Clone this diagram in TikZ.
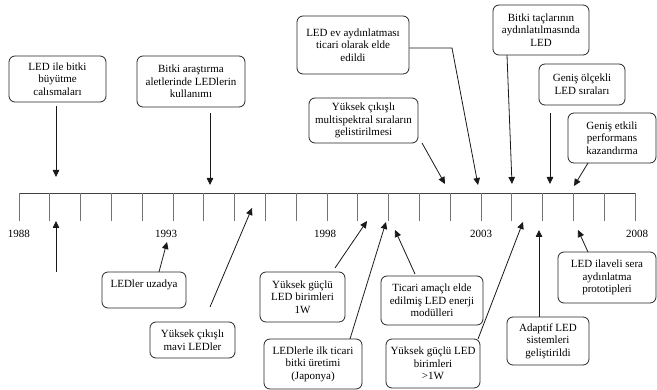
\documentclass[tikz,border=0pt]{standalone}
\usepackage{fontspec}
\setmainfont{Liberation Serif}
\usetikzlibrary{arrows.meta}
\begin{document}
\begin{tikzpicture}[x=1pt,y=-1pt,
  box/.style={draw=black!85, line width=0.8pt, rounded corners=6pt, align=center, inner sep=0pt,
    font=\fontsize{11}{12.6}\selectfont},
  conn/.style={draw=black!90, line width=0.8pt, -{Triangle[length=7pt,width=6.5pt]}},
  tickline/.style={draw=black!55, line width=0.8pt},
  axis/.style={draw=black!75, line width=0.8pt},
  yearlab/.style={font=\fontsize{11}{12.6}\selectfont, inner sep=0pt}]
\useasboundingbox (0,0) rectangle (657,390);
% timeline
\draw[axis] (19,193) -- (635,193);
\foreach \i in {0,...,20} \draw[tickline] ({19+30.8*\i},193) -- ++(0,28);
\node[yearlab] (y1) at (19,234) {1988};
\node[yearlab] (y2) at (166,234) {1993};
\node[yearlab] (y3) at (325,234) {1998};
\node[yearlab] (y4) at (481,234) {2003};
\node[yearlab] (y5) at (637,234) {2008};
% top boxes
\node[box, minimum width=97, minimum height=46] (b1) at (57.5,79) {LED ile bitki\\büyütme\\calısmaları};
\node[box, minimum width=108, minimum height=51] (b2) at (191,81.5) {Bitki araştırma\\aletlerinde LEDlerin\\kullanımı};
\node[box, minimum width=112, minimum height=58] (b3) at (353,45) {LED ev aydınlatması\\ticari olarak elde\\edildi};
\node[box, minimum width=109, minimum height=45] (b4) at (363.5,120.5) {Yüksek çıkışlı\\multispektral sıraların\\gelistirilmesi};
\node[box, minimum width=96, minimum height=50] (b5) at (541,30) {Bitki taçlarının\\aydınlatılmasında\\LED};
\node[box, minimum width=86, minimum height=41] (b6) at (582,84.5) {Geniş ölçekli\\LED sıraları};
\node[box, minimum width=88, minimum height=50] (b7) at (612,138) {Geniş etkili\\performans\\kazandırma};
% bottom boxes
\node[box, minimum width=84, minimum height=36] (b8) at (144,290) {\raisebox{12pt}{LEDler uzadya}};
\node[box, minimum width=85, minimum height=36] (b9) at (192.5,340) {Yüksek çıkışlı\\mavi LEDler};
\node[box, minimum width=85, minimum height=50] (b10) at (302.5,297) {Yüksek güçlü\\LED birimleri\\1W};
\node[box, minimum width=98, minimum height=50] (b11) at (313,364) {LEDlerle ilk ticari\\bitki üretimi\\(Japonya)};
\node[box, minimum width=102, minimum height=49] (b12) at (432,300.5) {Ticari amaçlı elde\\edilmiş LED enerji\\modülleri};
\node[box, minimum width=94, minimum height=49] (b13) at (433,363.5) {Yüksek güçlü LED\\birimleri\\>1W};
\node[box, minimum width=82, minimum height=48] (b14) at (548,341) {Adaptif LED\\sistemleri\\geliştirildi};
\node[box, minimum width=98, minimum height=51] (b15) at (607,277.5) {LED ilaveli sera\\aydınlatma\\prototipleri};
% coordinates
\coordinate (s1) at (56,106);   \coordinate (t1) at (56,177);
\coordinate (s2) at (210,113);  \coordinate (t2) at (210,185);
\coordinate (k3) at (452,48);   \coordinate (t3) at (478,185);
\coordinate (s4) at (422,143);  \coordinate (t4) at (445,184);
\coordinate (s5) at (507,55);   \coordinate (t5) at (512,184);
\coordinate (s6) at (550,113);  \coordinate (t6) at (550,184);
\coordinate (s7) at (588,163);  \coordinate (t7) at (574,186);
\coordinate (s0) at (56,272);   \coordinate (t0) at (56,221);
\coordinate (s8) at (159,272);  \coordinate (t8) at (167,242);
\coordinate (s9) at (210,307);  \coordinate (t9) at (252,208);
\coordinate (s10) at (335,268); \coordinate (t10) at (367,221);
\coordinate (s11) at (350,339); \coordinate (t11) at (386,222);
\coordinate (s12) at (415,274); \coordinate (t12) at (395,230);
\coordinate (s13) at (478,339); \coordinate (t13) at (523,222);
\coordinate (s14) at (539,317); \coordinate (t14) at (539,230);
\coordinate (s15) at (588,252); \coordinate (t15) at (578,230);
% arrows
\draw[conn] (s1) -- (t1);
\draw[conn] (s2) -- (t2);
\draw[conn] (b3.east |- k3) -- (k3) -- (t3);
\draw[conn] (s4) -- (t4);
\draw[conn] (s5) -- (t5);
\draw[conn] (s6) -- (t6);
\draw[conn] (s7) -- (t7);
\draw[conn] (s0) -- (t0);
\draw[conn] (s8) -- (t8);
\draw[conn] (s9) -- (t9);
\draw[conn] (s10) -- (t10);
\draw[conn] (s11) -- (t11);
\draw[conn] (s12) -- (t12);
\draw[conn] (s13) -- (t13);
\draw[conn] (s14) -- (t14);
\draw[conn] (s15) -- (t15);
\end{tikzpicture}
\end{document}
